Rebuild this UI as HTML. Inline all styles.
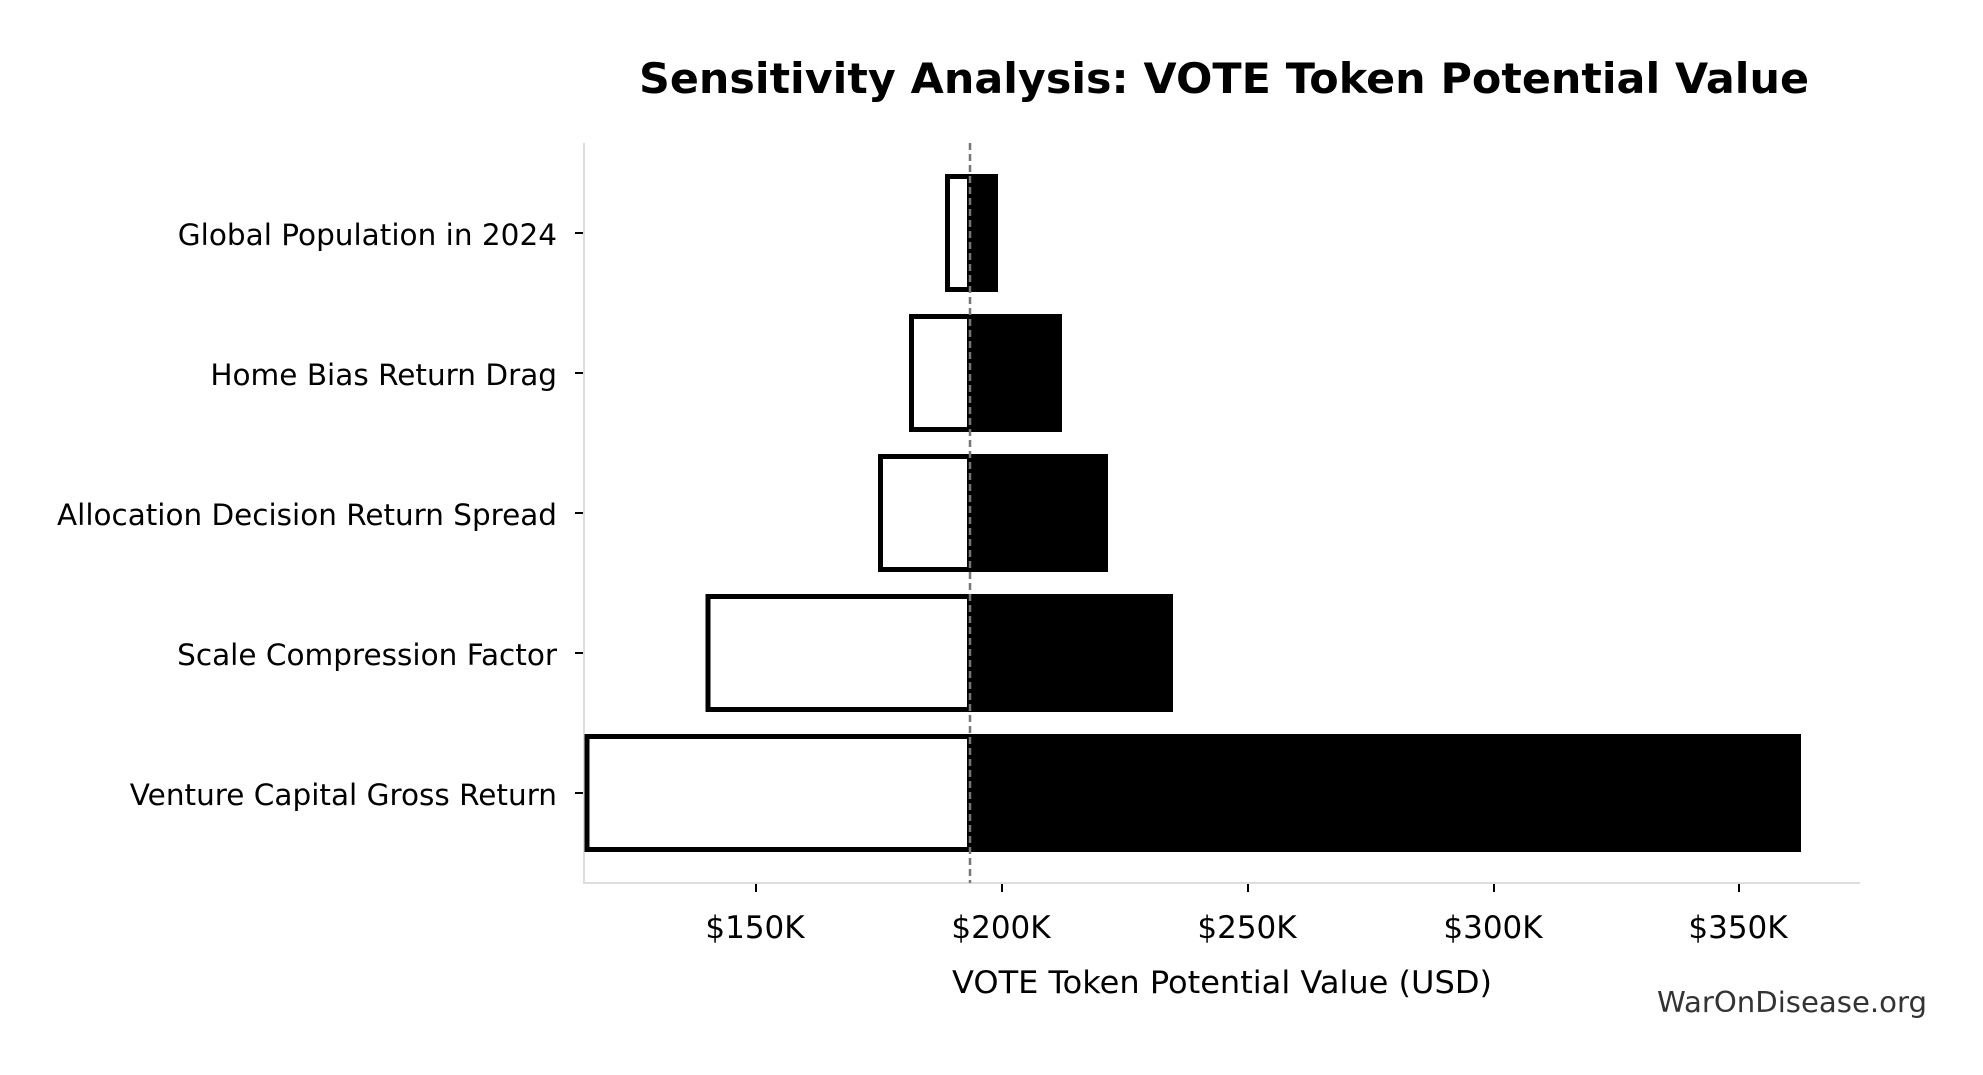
<!DOCTYPE html>
<html><head><meta charset="utf-8"><style>
html,body{margin:0;padding:0;background:#fff;}
svg{display:block;}
text{font-family:"DejaVu Sans","Liberation Sans",sans-serif;}
</style></head><body>
<svg width="1983" height="1075" viewBox="0 0 1983 1075" xmlns="http://www.w3.org/2000/svg">
<rect width="1983" height="1075" fill="#fff"/>
<text x="1224" y="93" font-size="42" font-weight="bold" text-anchor="middle" textLength="1170" lengthAdjust="spacingAndGlyphs">Sensitivity Analysis: VOTE Token Potential Value</text>

<line x1="584" y1="143" x2="584" y2="884" stroke="#dddddd" stroke-width="2"/>
<line x1="583" y1="883" x2="1860" y2="883" stroke="#dddddd" stroke-width="2"/>

<g>
<rect x="947.5" y="176.5" width="22" height="113" fill="#fff" stroke="#000" stroke-width="5"/>
<rect x="968" y="174" width="30" height="118" fill="#000"/>

<rect x="911.5" y="316.5" width="58" height="113" fill="#fff" stroke="#000" stroke-width="5"/>
<rect x="968" y="314" width="94" height="118" fill="#000"/>

<rect x="880.5" y="456.5" width="89" height="113" fill="#fff" stroke="#000" stroke-width="5"/>
<rect x="968" y="454" width="140" height="118" fill="#000"/>

<rect x="708" y="596.5" width="261.5" height="113" fill="#fff" stroke="#000" stroke-width="5"/>
<rect x="968" y="594" width="205" height="118" fill="#000"/>

<rect x="587" y="736.5" width="382.5" height="113" fill="#fff" stroke="#000" stroke-width="5"/>
<rect x="968" y="734" width="833" height="118" fill="#000"/>
</g>

<line x1="970" y1="143" x2="970" y2="883" stroke="#777" stroke-width="2.5" stroke-dasharray="7,4"/>

<g stroke="#000" stroke-width="2">
<line x1="575" y1="233" x2="583" y2="233"/>
<line x1="575" y1="373" x2="583" y2="373"/>
<line x1="575" y1="513" x2="583" y2="513"/>
<line x1="575" y1="653" x2="583" y2="653"/>
<line x1="575" y1="793" x2="583" y2="793"/>
</g>
<g font-size="29.5" text-anchor="end" fill="#000">
<text x="557" y="245">Global Population in 2024</text>
<text x="557" y="385">Home Bias Return Drag</text>
<text x="557" y="525" textLength="500" lengthAdjust="spacingAndGlyphs">Allocation Decision Return Spread</text>
<text x="557" y="665">Scale Compression Factor</text>
<text x="557" y="805">Venture Capital Gross Return</text>
</g>

<g stroke="#000" stroke-width="2">
<line x1="756" y1="884" x2="756" y2="892"/>
<line x1="1002" y1="884" x2="1002" y2="892"/>
<line x1="1248" y1="884" x2="1248" y2="892"/>
<line x1="1494" y1="884" x2="1494" y2="892"/>
<line x1="1739" y1="884" x2="1739" y2="892"/>
</g>
<g font-size="31" text-anchor="middle" fill="#000">
<text x="755" y="938">$150K</text>
<text x="1001" y="938">$200K</text>
<text x="1247" y="938">$250K</text>
<text x="1493" y="938">$300K</text>
<text x="1738" y="938">$350K</text>
</g>
<text x="1222" y="993" font-size="31" text-anchor="middle" textLength="540" lengthAdjust="spacingAndGlyphs">VOTE Token Potential Value (USD)</text>
<text x="1927" y="1012" font-size="28.5" text-anchor="end" fill="#333" textLength="270" lengthAdjust="spacingAndGlyphs">WarOnDisease.org</text>
</svg>
</body></html>
